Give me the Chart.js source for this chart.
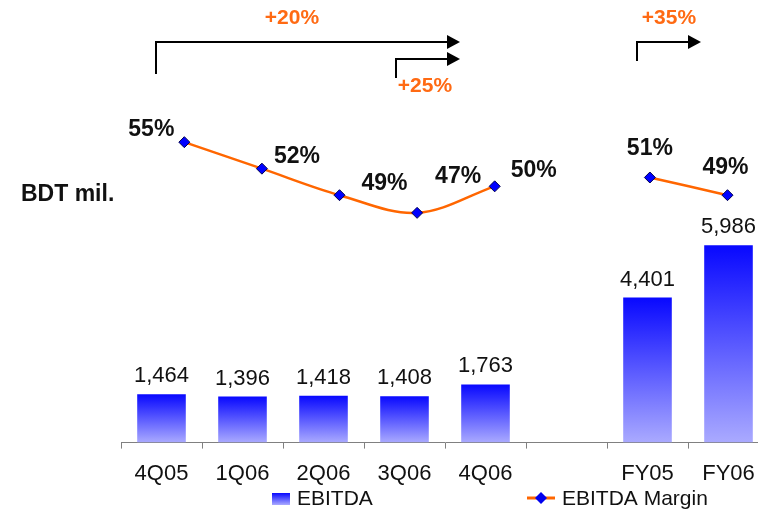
<!DOCTYPE html>
<html lang="en">
<head>
    <meta charset="UTF-8">
    <title>EBITDA and EBITDA Margin</title>
    <script src="https://cdn.jsdelivr.net/npm/chart.js"></script>
    <style>
        html, body {
            margin: 0;
            padding: 0;
            overflow: hidden;
            background: #fff;
        }
        .chart-box {
            width: 800px;
            height: 510px;
        }
    </style>
</head>
<body>
    <div class="chart-box">
        <canvas id="ebitdaChart" width="800" height="510"></canvas>
    </div>

    <script>
        // Datos
        const periods = ['4Q05', '1Q06', '2Q06', '3Q06', '4Q06', '', 'FY05', 'FY06'];
        const ebitda = [1464, 1396, 1418, 1408, 1763, null, 4401, 5986];
        const ebitdaMargin = [55, 52, 49, 47, 50, null, 51, 49];
        const growthLabels = ['+20%', '+25%', '+35%'];

        const FONT = 'Arial, "Liberation Sans", sans-serif';
        const ORANGE = '#ff6a13';

        // desplazamiento de las etiquetas de % respecto al punto
        const marginLabelOffset = [[-33, -13], [35, -12], [45, -12], [41, -36], [39, -16], null, [0, -29], [-2, -28]];

        function barGradient(ctx, top, bottom) {
            const g = ctx.createLinearGradient(0, top, 0, bottom);
            g.addColorStop(0, '#0808ff');
            g.addColorStop(1, '#aaaaff');
            return g;
        }

        function drawArrow(ctx, x0, y0, yLine, xEnd) {
            ctx.beginPath();
            ctx.moveTo(x0, y0);
            ctx.lineTo(x0, yLine);
            ctx.lineTo(xEnd - 12, yLine);
            ctx.stroke();
            ctx.beginPath();
            ctx.moveTo(xEnd - 13, yLine - 7);
            ctx.lineTo(xEnd, yLine);
            ctx.lineTo(xEnd - 13, yLine + 7);
            ctx.closePath();
            ctx.fill();
        }

        const extrasPlugin = {
            id: 'extras',
            afterDatasetsDraw(chart) {
                const ctx = chart.ctx;
                ctx.save();

                // valores sobre las barras
                const barMeta = chart.getDatasetMeta(1);
                ctx.fillStyle = '#111';
                ctx.font = '22px ' + FONT;
                ctx.textAlign = 'center';
                ctx.textBaseline = 'alphabetic';
                barMeta.data.forEach((el, i) => {
                    if (ebitda[i] == null) return;
                    ctx.fillText(ebitda[i].toLocaleString('en-US'), el.x, el.y - 12);
                });

                // etiquetas de margen
                const lineMeta = chart.getDatasetMeta(0);
                ctx.font = 'bold 23px ' + FONT;
                ctx.textBaseline = 'middle';
                lineMeta.data.forEach((el, i) => {
                    if (ebitdaMargin[i] == null) return;
                    const off = marginLabelOffset[i];
                    ctx.fillText(ebitdaMargin[i] + '%', el.x + off[0], el.y + off[1]);
                });

                // unidad
                ctx.textAlign = 'left';
                ctx.fillText('BDT mil.', 21, 195);

                // flechas de crecimiento
                ctx.strokeStyle = '#000';
                ctx.fillStyle = '#000';
                ctx.lineWidth = 2;
                drawArrow(ctx, 156, 74, 42, 460);
                drawArrow(ctx, 396, 78, 59, 460);
                drawArrow(ctx, 637, 61, 42, 701);

                ctx.fillStyle = ORANGE;
                ctx.font = 'bold 21px ' + FONT;
                ctx.textAlign = 'center';
                ctx.fillText(growthLabels[0], 292, 18);
                ctx.fillText(growthLabels[1], 425, 86);
                ctx.fillText(growthLabels[2], 669, 18);

                // leyenda
                ctx.fillStyle = barGradient(ctx, 493, 505);
                ctx.fillRect(272, 493, 18, 12);
                ctx.fillStyle = '#111';
                ctx.font = '21px ' + FONT;
                ctx.textAlign = 'left';
                ctx.textBaseline = 'alphabetic';
                ctx.fillText('EBITDA', 297, 505);

                ctx.strokeStyle = '#ff6600';
                ctx.lineWidth = 3;
                ctx.beginPath();
                ctx.moveTo(527, 498);
                ctx.lineTo(555, 498);
                ctx.stroke();
                ctx.fillStyle = '#0000ee';
                ctx.beginPath();
                ctx.moveTo(541, 492);
                ctx.lineTo(547, 498);
                ctx.lineTo(541, 504);
                ctx.lineTo(535, 498);
                ctx.closePath();
                ctx.fill();
                ctx.fillStyle = '#111';
                ctx.fillText('EBITDA Margin', 562, 505);

                ctx.restore();
            }
        };

        const ctx = document.getElementById('ebitdaChart').getContext('2d');
        const chart = new Chart(ctx, {
            type: 'bar',
            data: {
                labels: periods,
                datasets: [
                    {
                        type: 'line',
                        label: 'EBITDA Margin',
                        data: ebitdaMargin.map((v, i) => ({ x: i, y: v })),
                        xAxisID: 'x2',
                        yAxisID: 'y2',
                        borderColor: '#ff6600',
                        borderWidth: 2.5,
                        tension: 0.35,
                        spanGaps: false,
                        pointStyle: 'rectRot',
                        pointRadius: 5.5,
                        pointBackgroundColor: '#0000ff',
                        pointBorderColor: '#000050',
                        pointBorderWidth: 1
                    },
                    {
                        type: 'bar',
                        label: 'EBITDA',
                        data: ebitda,
                        xAxisID: 'x',
                        yAxisID: 'y',
                        grouped: false,
                        barPercentage: 0.6,
                        categoryPercentage: 1,
                        backgroundColor: (c) => {
                            const ch = c.chart;
                            if (!ch.chartArea || c.raw == null) return '#5555ff';
                            const top = ch.scales.y.getPixelForValue(c.raw);
                            const bottom = ch.scales.y.getPixelForValue(0);
                            return barGradient(ch.ctx, top, bottom);
                        }
                    }
                ]
            },
            options: {
                responsive: false,
                animation: false,
                devicePixelRatio: 1,
                layout: {
                    padding: { left: 121, top: 113, right: 31, bottom: 11 }
                },
                plugins: {
                    legend: { display: false },
                    tooltip: { enabled: false }
                },
                scales: {
                    x: {
                        type: 'category',
                        offset: true,
                        grid: {
                            offset: true,
                            drawOnChartArea: false,
                            drawTicks: true,
                            tickLength: 6,
                            color: '#808080'
                        },
                        border: { color: '#808080', width: 1 },
                        ticks: {
                            color: '#111',
                            padding: 12,
                            maxRotation: 0,
                            autoSkip: false,
                            font: { family: FONT, size: 22 }
                        }
                    },
                    x2: {
                        type: 'linear',
                        display: false,
                        offset: false,
                        grid: { offset: false },
                        min: -0.816,
                        max: 7.535
                    },
                    y: {
                        display: false,
                        min: 0,
                        max: 10000
                    },
                    y2: {
                        display: false,
                        min: 21,
                        max: 58.3
                    }
                }
            },
            plugins: [extrasPlugin]
        });
    </script>
</body>
</html>
